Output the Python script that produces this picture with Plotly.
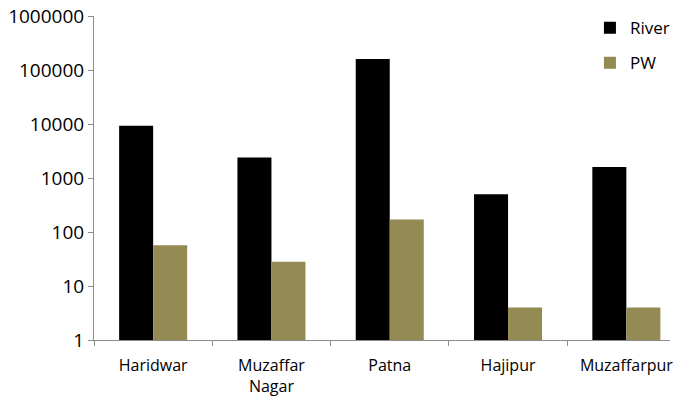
import plotly.graph_objects as go

# Sampling sites and counts (log scale)
sites = ["Haridwar", "Muzaffar<br>Nagar", "Patna", "Hajipur", "Muzaffarpur"]
river = [9300, 2400, 160000, 500, 1600]
pw = [57, 28, 170, 4, 4]

y_ticks = [1, 10, 100, 1000, 10000, 100000, 1000000]
y_tick_text = ["1", "10", "100", "1000", "10000", "100000", "1000000"]

font_family = "'Open Sans', sans-serif"

fig = go.Figure()
fig.add_trace(go.Bar(x=sites, y=river, name="River", marker_color="#000000",
                     marker_line_width=0, legendgroup="a"))
fig.add_trace(go.Bar(x=sites, y=pw, name="PW", marker_color="#948A54",
                     marker_line_width=0, legendgroup="b"))

fig.update_layout(
    width=684, height=404,
    margin=dict(l=94, r=14, t=16, b=64, autoexpand=False),
    paper_bgcolor="white", plot_bgcolor="white",
    barmode="group", bargap=0.425, bargroupgap=0,
    font=dict(family=font_family, size=15, color="#000000"),
    showlegend=True,
    legend=dict(x=0.861, y=1.018, xanchor="left", yanchor="top",
                bgcolor="rgba(0,0,0,0)", font=dict(size=17),
                tracegroupgap=10, itemwidth=30),
    xaxis=dict(range=[-0.5, 4.369],
               showline=True, linecolor="#8C8C8C", linewidth=1,
               ticks="outside", ticklen=5, tickcolor="#8C8C8C",
               tickson="boundaries", showgrid=False, zeroline=False,
               automargin=False, ticklabelstandoff=11,
               tickfont=dict(size=16)),
    yaxis=dict(type="log", range=[0, 6], tickvals=y_ticks, ticktext=y_tick_text,
               showline=True, linecolor="#8C8C8C", linewidth=1,
               ticks="outside", ticklen=5, tickcolor="#8C8C8C",
               showgrid=False, zeroline=False, automargin=False,
               tickfont=dict(size=19)),
)

fig.write_html("out.html")
